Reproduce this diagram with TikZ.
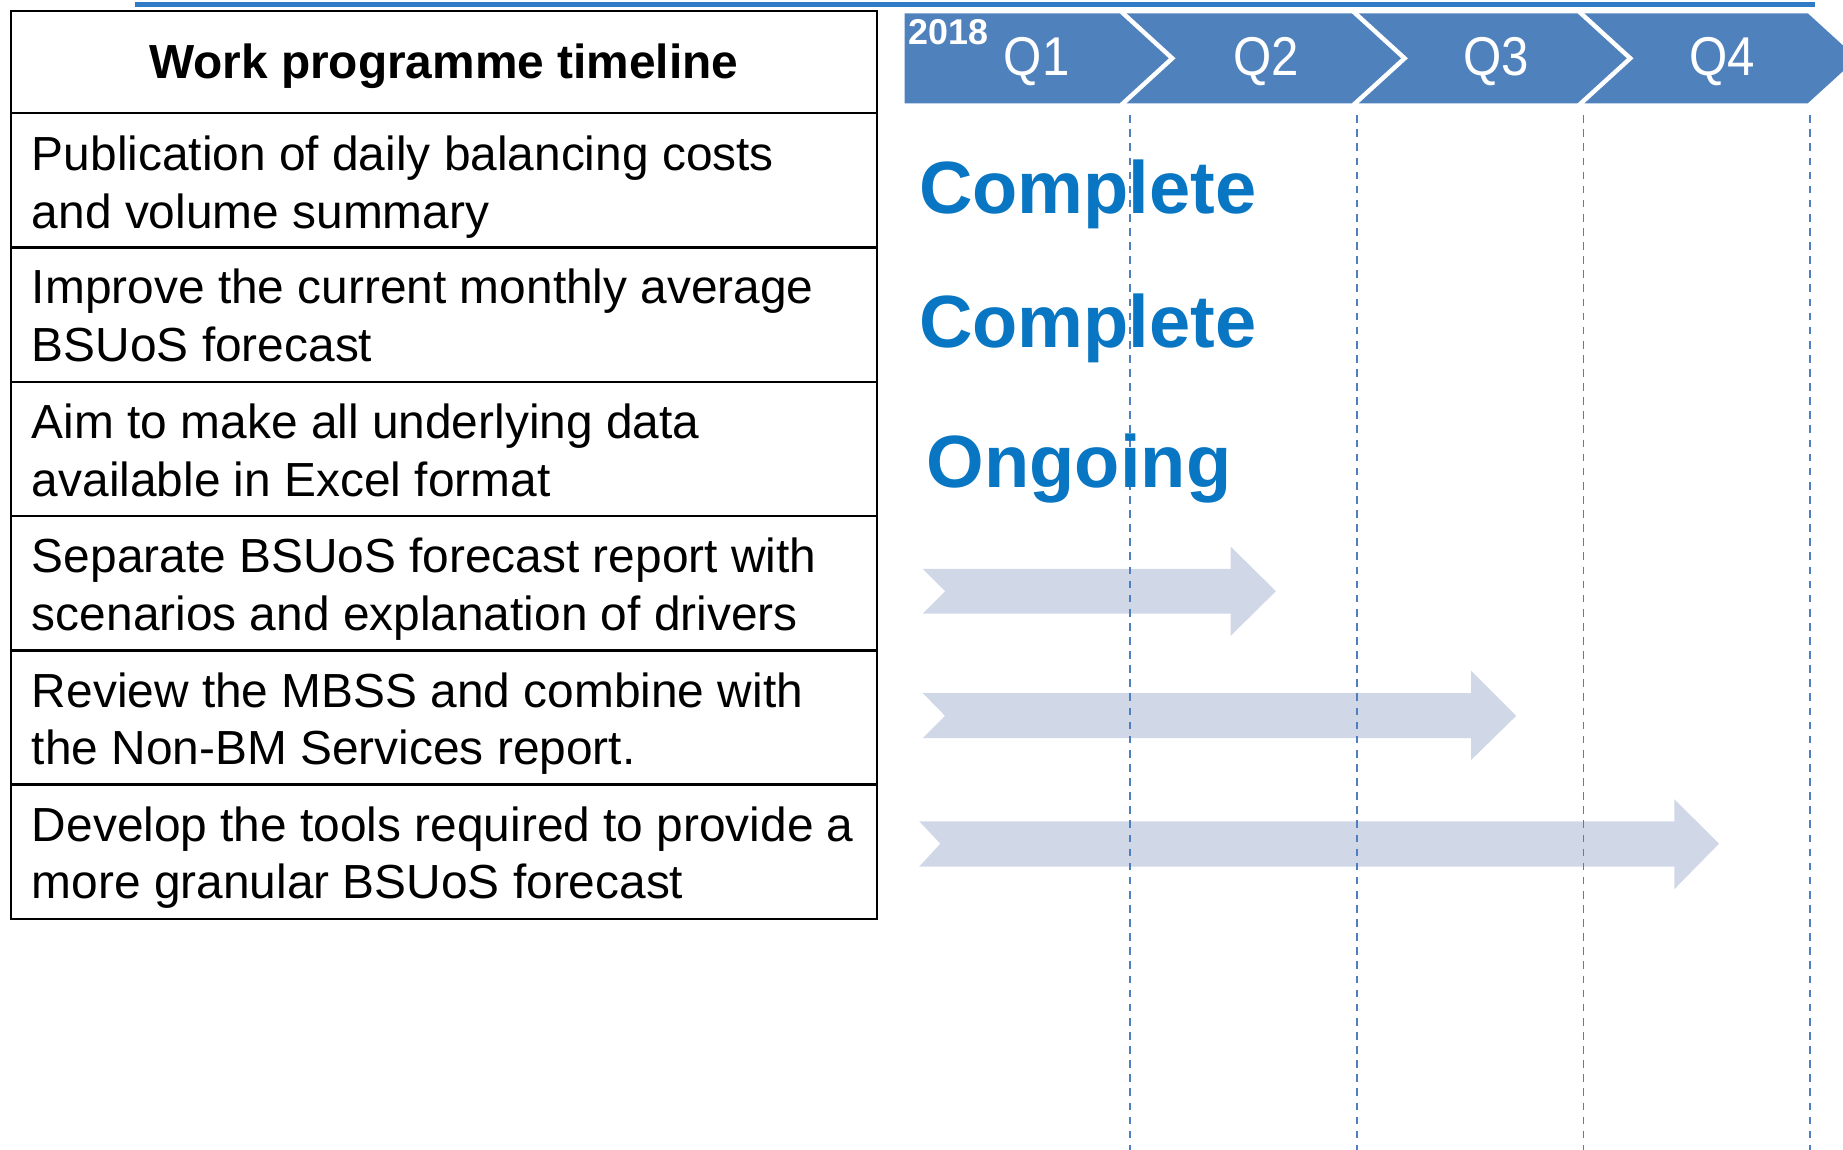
\documentclass[tikz,border=0pt]{standalone}
\usepackage{fontspec}
\setmainfont{Liberation Sans}
\usepackage{graphicx}
\definecolor{chev}{HTML}{4F81BD}
\definecolor{topline}{HTML}{2F7BC6}
\definecolor{arrowfill}{HTML}{D0D8E8}
\definecolor{dashc}{HTML}{4F7FC0}
\definecolor{status}{HTML}{0876C2}
\begin{document}
\begin{tikzpicture}[x=1pt,y=-1pt,
  rowtext/.style={anchor=base west,inner sep=0pt,font=\fontsize{40.7}{49}\selectfont},
  headtext/.style={anchor=base,inner sep=0pt,font=\fontsize{40.7}{49}\selectfont\bfseries},
  qlabel/.style={anchor=base,inner sep=0pt,text=white},
  statustext/.style={anchor=base,inner sep=0pt,text=status,font=\fontsize{63}{70}\selectfont\bfseries},
  chevshape/.style={fill=chev,draw=none},
  bararrow/.style={fill=arrowfill,draw=none},
  qline/.style={draw=dashc,line width=1.3pt,dash pattern=on 6.5pt off 5.5pt},
  tableline/.style={draw=black,line width=1.9pt}]
\useasboundingbox (0,0) rectangle (1568,978);
\begin{scope}
\clip (0,0) rectangle (1568,978);
% top line
\draw[topline,line width=3.6pt] (115,3.8) -- (1544.5,3.8);
% chevrons
\fill[chevshape] (769.6,11.3) -- (952.5,11.3) -- (994.3,49.6) -- (952.5,87.9) -- (769.6,87.9) -- cycle;
\fill[chevshape] (958.5,11.3) -- (1150,11.3) -- (1192,49.6) -- (1150,87.9) -- (958.5,87.9) -- (1000.3,49.6) -- cycle;
\fill[chevshape] (1156,11.3) -- (1342,11.3) -- (1384,49.6) -- (1342,87.9) -- (1156,87.9) -- (1198,49.6) -- cycle;
\fill[chevshape] (1348,11.3) -- (1538,11.3) -- (1580,49.6) -- (1538,87.9) -- (1348,87.9) -- (1390,49.6) -- cycle;
% arrows
\fill[bararrow] (785,484) -- (1047,484) -- (1047,465) -- (1085.5,503) -- (1047,541) -- (1047,522) -- (785,522) -- (804,503) -- cycle;
\fill[bararrow] (785,589.6) -- (1251.6,589.6) -- (1251.6,570.6) -- (1290,609) -- (1251.6,646.6) -- (1251.6,628) -- (785,628) -- (804,609) -- cycle;
\fill[bararrow] (782,698.7) -- (1424.6,698.7) -- (1424.6,680) -- (1462.5,717.8) -- (1424.6,756.4) -- (1424.6,737.3) -- (782,737.3) -- (800,717.8) -- cycle;
% dashed quarter lines
\coordinate (d1t) at (961.5,98); \coordinate (d1b) at (961.5,978);
\coordinate (d2t) at (1154.6,98); \coordinate (d2b) at (1154.6,978);
\coordinate (d3t) at (1347.4,98); \coordinate (d3b) at (1347.4,978);
\coordinate (d4t) at (1540,98); \coordinate (d4b) at (1540,978);
\draw[qline] (d1t) -- (d1b);
\draw[qline] (d2t) -- (d2b);
\draw[qline] (d3t) -- (d3b);
\draw[qline] (d4t) -- (d4b);
\end{scope}
% quarter labels
\node[anchor=base west,inner sep=0pt,text=white,font=\fontsize{30.5}{31}\selectfont\bfseries] (yr) at (772.6,37.7) {2018};
\node[qlabel] (q1) at (882,64) {\scalebox{0.9}[1]{\fontsize{46.5}{50}\selectfont Q1}};
\node[qlabel] (q2) at (1077,64) {\scalebox{0.9}[1]{\fontsize{46.5}{50}\selectfont Q2}};
\node[qlabel] (q3) at (1273,64) {\scalebox{0.9}[1]{\fontsize{46.5}{50}\selectfont Q3}};
\node[qlabel] (q4) at (1465,64) {\scalebox{0.9}[1]{\fontsize{46.5}{50}\selectfont Q4}};
% table
\draw[tableline] (9.3,9.4) rectangle (746,782);
\foreach \yy in {96.4,210.5,325,439,553.5,667.5}{\draw[tableline] (9.3,\yy) -- (746,\yy);}
\node[headtext] (head) at (377.5,67) {Work programme timeline};
\node[rowtext] (r1a) at (27,145) {Publication of daily balancing costs};
\node[rowtext] (r1b) at (27,194) {and volume summary};
\node[rowtext] (r2a) at (27,258.5) {Improve the current monthly average};
\node[rowtext] (r2b) at (27,307.5) {BSUoS forecast};
\node[rowtext] (r3a) at (27,373) {Aim to make all underlying data};
\node[rowtext] (r3b) at (27,422) {available in Excel format};
\node[rowtext] (r4a) at (27,487) {Separate BSUoS forecast report with};
\node[rowtext] (r4b) at (27,536) {scenarios and explanation of drivers};
\node[rowtext] (r5a) at (27,601.5) {Review the MBSS and combine with};
\node[rowtext] (r5b) at (27,650.5) {the Non-BM Services report.};
\node[rowtext] (r6a) at (27,715.5) {Develop the tools required to provide a};
\node[rowtext] (r6b) at (27,764.5) {more granular BSUoS forecast};
% status
\node[statustext] (s1) at (925.5,182) {Complete};
\node[statustext] (s2) at (925.5,296) {Complete};
\node[statustext] (s3) at (918,415) {Ongoing};
\end{tikzpicture}
\end{document}
